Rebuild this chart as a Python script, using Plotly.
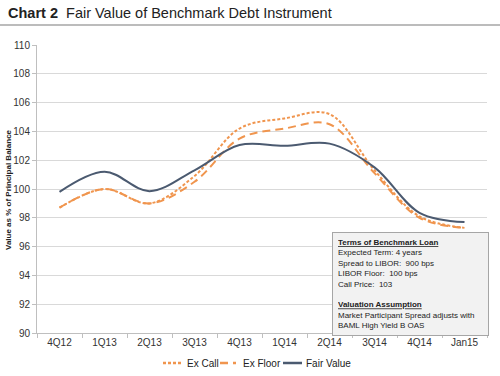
import plotly.graph_objects as go

categories = ["4Q12", "1Q13", "2Q13", "3Q13", "4Q13", "1Q14", "2Q14", "3Q14", "4Q14", "Jan15"]
ex_call = [98.7, 100.0, 99.0, 100.9, 104.2, 104.9, 105.2, 101.3, 98.1, 97.3]
ex_floor = [98.7, 100.0, 99.0, 100.5, 103.5, 104.2, 104.5, 101.1, 98.0, 97.3]
fair_value = [99.8, 101.2, 99.85, 101.3, 103.05, 103.0, 103.15, 101.5, 98.35, 97.7]

y_ticks = [90, 92, 94, 96, 98, 100, 102, 104, 106, 108, 110]

orange = "#F0954E"
navy = "#4B5A70"
font_family = "Liberation Sans, Arial, sans-serif"

W, H = 500, 376
L, R, T, B = 37, 13, 45, 43
PW, PH = W - L - R, H - T - B


def px(x):
    return (x - L) / PW


def py(y):
    return (H - B - y) / PH


series = [
    ("Ex Call", ex_call, orange, "3px,2px"),
    ("Ex Floor", ex_floor, orange, "8px,5px"),
    ("Fair Value", fair_value, navy, "solid"),
]

fig = go.Figure()
for name, vals, color, dash in series:
    fig.add_trace(go.Scatter(x=categories, y=vals, name=name, mode="lines",
                             line=dict(color=color, width=2, dash=dash, shape="spline", smoothing=1.0)))

box_text = ("<b><u>Terms of Benchmark Loan</u></b><br>"
            "Expected Term: 4 years<br>"
            "Spread to LIBOR:  900 bps<br>"
            "LIBOR Floor:  100 bps<br>"
            "Call Price:  103<br>"
            " <br>"
            "<b><u>Valuation Assumption</u></b><br>"
            "Market Participant Spread adjusts with<br>"
            "BAML High Yield B OAS")

fig.update_layout(
    width=W, height=H,
    margin=dict(l=L, r=R, t=T, b=B, autoexpand=False),
    paper_bgcolor="white", plot_bgcolor="white",
    font=dict(family=font_family, size=10, color="#333333"),
    showlegend=False,
    xaxis=dict(type="category", range=[-0.5, 9.5], showgrid=False, automargin=False,
               showline=True, linecolor="#BFBFBF", linewidth=1,
               ticks="outside", tickson="boundaries", ticklen=4, tickcolor="#BFBFBF",
               tickfont=dict(size=10, color="#333333"), zeroline=False),
    yaxis=dict(range=[90, 110], tickvals=y_ticks, showgrid=True, gridcolor="#D9D9D9", gridwidth=1,
               automargin=False,
               showline=True, linecolor="#BFBFBF", linewidth=1,
               ticks="outside", ticklen=4, tickcolor="#BFBFBF",
               tickfont=dict(size=10, color="#333333"), zeroline=False),
)

# Title
fig.add_annotation(xref="paper", yref="paper", x=px(6), y=py(13), xanchor="left", yanchor="middle",
                   showarrow=False, align="left",
                   text="<b>Chart 2</b>&nbsp;&nbsp;Fair Value of Benchmark Debt Instrument",
                   font=dict(size=14.5, color="#222222", family=font_family))
fig.add_shape(type="line", xref="paper", yref="paper", x0=px(0), x1=px(W),
              y0=py(25), y1=py(25), line=dict(color="#A6A6A6", width=1.5))

# Y axis title
fig.add_annotation(xref="paper", yref="paper", x=px(8), y=py(190), xanchor="center", yanchor="middle",
                   showarrow=False, textangle=-90,
                   text="<b>Value as % of Principal Balance</b>",
                   font=dict(size=8, color="#222222", family=font_family))

# Info box
fig.add_annotation(xref="paper", yref="paper", x=px(332), y=py(232),
                   xanchor="left", yanchor="top", showarrow=False, align="left", width=145,
                   text=box_text, bgcolor="#F2F2F2", bordercolor="#A6A6A6", borderwidth=1, borderpad=5,
                   font=dict(size=8, color="#222222", family=font_family))

# Legend (drawn manually to match compact reference legend)
legend_items = [
    (163, 183, 185),
    (220, 236, 241),
    (283, 302, 304),
]
for (name, _, color, dash), (x0, x1, xt) in zip(series, legend_items):
    fig.add_shape(type="line", xref="paper", yref="paper", x0=px(x0), x1=px(x1), y0=py(363), y1=py(363),
                  line=dict(color=color, width=2.5, dash=dash))
    fig.add_annotation(xref="paper", yref="paper", x=px(xt), y=py(363), xanchor="left", yanchor="middle",
                       showarrow=False, text=name, font=dict(size=10, color="#222222", family=font_family))

fig.write_html("out.html", config={"displayModeBar": False},
               post_script="document.body.style.margin='0';")
